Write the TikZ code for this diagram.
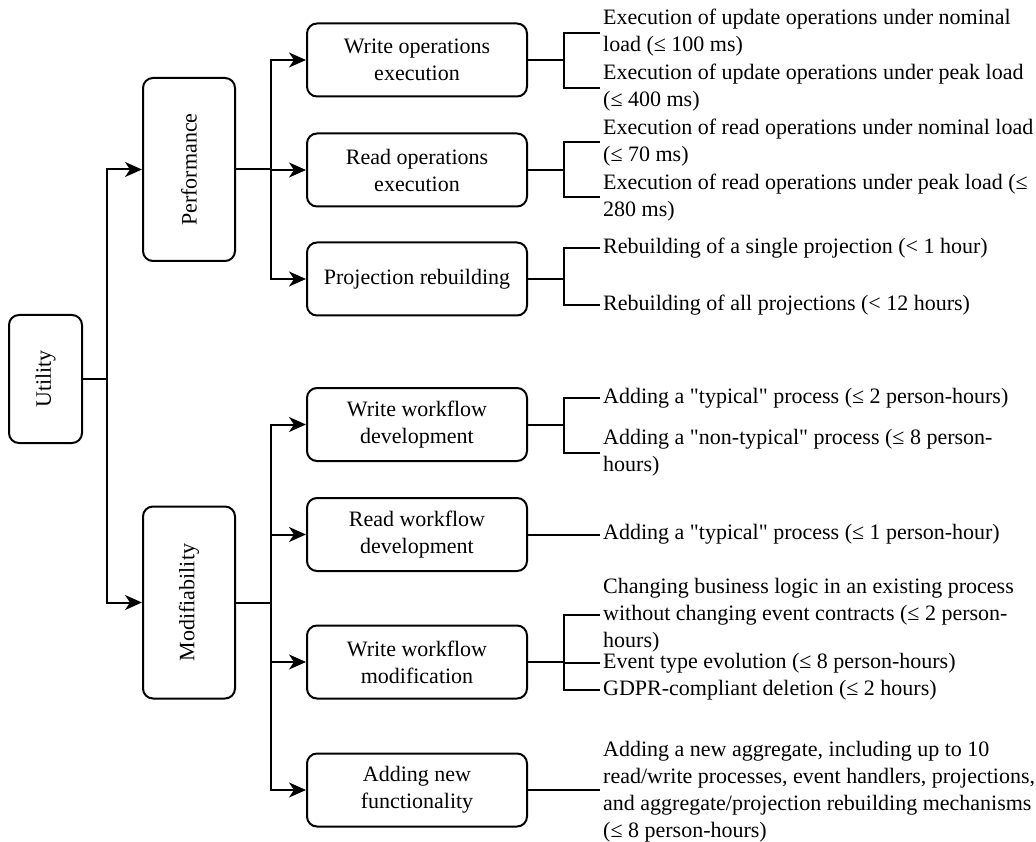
\documentclass[tikz,border=0pt]{standalone}
\usepackage{fontspec}
\setmainfont{Liberation Serif}[Ligatures=TeXOff]
\usetikzlibrary{arrows.meta}
\begin{document}
\begin{tikzpicture}[x=1pt,y=-1pt,
  every node/.style={font=\fontsize{22}{27}\selectfont},
  box/.style={draw,line width=2pt,rounded corners=10pt,inner sep=0pt,align=center},
  leaf/.style={anchor=west,align=left,inner xsep=3pt,inner ysep=0pt},
  conn/.style={line width=2pt},
  arr/.style={line width=2pt,-{Stealth[length=17pt,width=15pt,inset=5pt]}}]
\useasboundingbox (0,0) rectangle (1036,842);
% trunk coordinates
\coordinate (t1) at (107,0);
\coordinate (t2) at (271,0);
\coordinate (t3) at (564,0);
% rotated boxes
\node[box,minimum width=73pt,minimum height=128pt] (util) at (45.5,379) {};
\node[rotate=90] (utilt) at (util.center) {Utility};
\node[box,minimum width=92pt,minimum height=183pt] (perf) at (189,169.5) {};
\node[rotate=90] (perft) at (perf.center) {Performance};
\node[box,minimum width=92pt,minimum height=192pt] (modi) at (189,602.5) {};
\node[rotate=90] (modit) at (modi.center) {Modifiability};
% middle boxes
\begin{scope}[every node/.append style={minimum width=220pt,minimum height=73pt}]
\node[box] (wo) at (417,60) {Write operations\\execution};
\node[box] (ro) at (417,170) {Read operations\\execution};
\node[box] (pr) at (417,279) {Projection rebuilding};
\node[box] (wd) at (417,424.5) {Write workflow\\development};
\node[box] (rd) at (417,534.5) {Read workflow\\development};
\node[box] (wm) at (417,662) {Write workflow\\modification};
\node[box] (an) at (417,790) {Adding new\\functionality};
\end{scope}
% leaves
\node[leaf] (e1) at (600,33) {Execution of update operations under nominal\\load (≤ 100 ms)};
\node[leaf] (e2) at (600,88) {Execution of update operations under peak load\\(≤ 400 ms)};
\node[leaf] (e3) at (600,142.5) {Execution of read operations under nominal load\\(≤ 70 ms)};
\node[leaf] (e4) at (600,197.5) {Execution of read operations under peak load (≤\\280 ms)};
\node[leaf] (e5) at (600,248) {Rebuilding of a single projection (< 1 hour)};
\node[leaf] (e6) at (600,305) {Rebuilding of all projections (< 12 hours)};
\node[leaf] (e7) at (600,398) {Adding a "typical" process (≤ 2 person-hours)};
\node[leaf] (e8) at (600,452.5) {Adding a "non-typical" process (≤ 8 person-\\hours)};
\node[leaf] (e9) at (600,534.5) {Adding a "typical" process (≤ 1 person-hour)};
\node[leaf] (e10) at (600,615) {Changing business logic in an existing process\\without changing event contracts (≤ 2 person-\\hours)};
\node[leaf] (e11) at (600,663) {Event type evolution (≤ 8 person-hours)};
\node[leaf] (e12) at (600,690) {GDPR-compliant deletion (≤ 2 hours)};
\node[leaf] (e13) at (600,792) {Adding a new aggregate, including up to 10\\read/write processes, event handlers, projections,\\and aggregate/projection rebuilding mechanisms\\(≤ 8 person-hours)};
% level 1
\draw[arr] (util.east) -- (util.east -| t1) |- (perf.west);
\draw[arr] (util.east -| t1) |- (modi.west);
% level 2
\draw[arr] (perf.east) -- (perf.east -| t2) |- (wo.west);
\draw[arr] (perf.east -| t2) |- (ro.west);
\draw[arr] (perf.east -| t2) |- (pr.west);
\draw[arr] (modi.east) -- (modi.east -| t2) |- (wd.west);
\draw[arr] (modi.east -| t2) |- (rd.west);
\draw[arr] (modi.east -| t2) |- (wm.west);
\draw[arr] (modi.east -| t2) |- (an.west);
% level 3
\draw[conn] (wo.east) -- (wo.east -| t3) |- (e1.west);
\draw[conn] (wo.east -| t3) |- (e2.west);
\draw[conn] (ro.east) -- (ro.east -| t3) |- (e3.west);
\draw[conn] (ro.east -| t3) |- (e4.west);
\draw[conn] (pr.east) -- (pr.east -| t3) |- (e5.west);
\draw[conn] (pr.east -| t3) |- (e6.west);
\draw[conn] (wd.east) -- (wd.east -| t3) |- (e7.west);
\draw[conn] (wd.east -| t3) |- (e8.west);
\draw[conn] (rd.east) -- (rd.east -| e9.west);
\draw[conn] (wm.east) -- (wm.east -| t3) |- (e10.west);
\draw[conn] (wm.east -| t3) |- (e11.west);
\draw[conn] (wm.east -| t3) |- (e12.west);
\draw[conn] (an.east) -- (an.east -| e13.west);
\end{tikzpicture}
\end{document}
